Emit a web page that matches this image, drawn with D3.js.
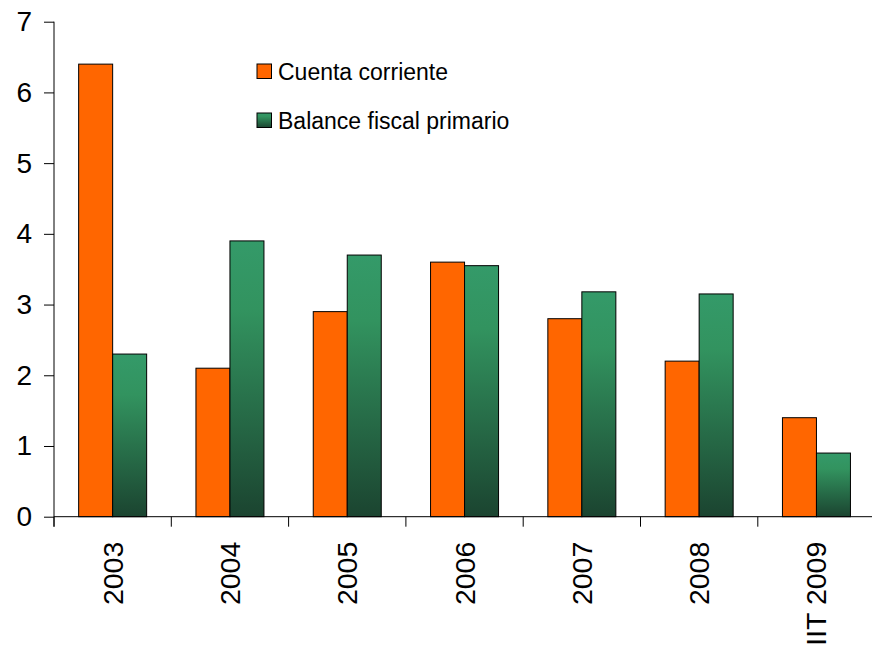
<!DOCTYPE html>
<html>
<head>
<meta charset="utf-8">
<script src="https://cdn.jsdelivr.net/npm/d3@7"></script>
<style>
  html, body { margin: 0; padding: 0; background: #fff; }
  svg { display: block; font-family: "Liberation Sans", Arial, sans-serif; }
</style>
</head>
<body>
<svg id="chart" width="872" height="647"></svg>
<script>
const categories = ["2003", "2004", "2005", "2006", "2007", "2008", "IIT 2009"];
const seriesNames = ["Cuenta corriente", "Balance fiscal primario"];
const cuentaCorriente = [6.4, 2.1, 2.9, 3.6, 2.8, 2.2, 1.4];
const balanceFiscal = [2.3, 3.9, 3.7, 3.55, 3.18, 3.15, 0.9];
const yTicks = [0, 1, 2, 3, 4, 5, 6, 7];

(function () {
const svg = d3.select("#chart");
const defs = svg.append("defs");
const grad = defs.append("linearGradient")
  .attr("id", "greenGrad").attr("x1", 0).attr("y1", 0).attr("x2", 0).attr("y2", 1);
grad.append("stop").attr("offset", "0%").attr("stop-color", "#349a69");
grad.append("stop").attr("offset", "25%").attr("stop-color", "#32935f");
grad.append("stop").attr("offset", "100%").attr("stop-color", "#1b4430");

const mLeft = 54, mTop = 21.7, mBottom = 516.7, step = 117.3;
const x0 = d3.scaleBand().domain(categories).range([mLeft, mLeft + step * categories.length]).padding(0);
const y = d3.scaleLinear().domain([0, 7]).range([mBottom, mTop]);
const groupW = 68;
const x1 = d3.scaleBand().domain(seriesNames)
  .range([(x0.bandwidth() - groupW) / 2, (x0.bandwidth() + groupW) / 2]).padding(0);

const colors = { "Cuenta corriente": "#ff6600", "Balance fiscal primario": "url(#greenGrad)" };

const data = categories.map((c, i) => ({
  cat: c,
  vals: [
    { s: seriesNames[0], v: cuentaCorriente[i] },
    { s: seriesNames[1], v: balanceFiscal[i] }
  ]
}));

const groups = svg.append("g").selectAll("g").data(data).join("g")
  .attr("transform", d => `translate(${x0(d.cat)},0)`);
groups.selectAll("rect").data(d => d.vals).join("rect")
  .attr("x", d => x1(d.s))
  .attr("y", d => y(d.v))
  .attr("width", x1.bandwidth())
  .attr("height", d => y(0) - y(d.v))
  .attr("fill", d => colors[d.s])
  .attr("stroke", "#000")
  .attr("stroke-width", 1);

// Y axis
const yAxis = svg.append("g").attr("transform", `translate(${mLeft},0)`)
  .call(d3.axisLeft(y).tickValues(yTicks).tickFormat(d3.format("d")).tickSize(10).tickPadding(12));
yAxis.select(".domain").attr("d", `M0,${mTop}V${mBottom + 10}`).attr("stroke", "#000");
yAxis.selectAll("text").attr("font-size", 28).attr("fill", "#000")
  .attr("font-family", "'Liberation Sans', Arial, sans-serif");
yAxis.selectAll("line").attr("stroke", "#000");

// X axis line and ticks at category boundaries
svg.append("line")
  .attr("x1", mLeft).attr("x2", 872).attr("y1", y(0)).attr("y2", y(0))
  .attr("stroke", "#000");
const boundaries = categories.map(c => x0(c)).concat([x0.range()[1]]);
svg.append("g").selectAll("line").data(boundaries).join("line")
  .attr("x1", d => d).attr("x2", d => d)
  .attr("y1", y(0)).attr("y2", y(0) + 10)
  .attr("stroke", "#000");

// X labels rotated
svg.append("g").selectAll("text").data(categories).join("text")
  .attr("transform", d => `translate(${x0(d) + x0.bandwidth() / 2 + 10},${y(0) + 25}) rotate(-90)`)
  .attr("text-anchor", "end")
  .attr("font-size", 28.5)
  .attr("fill", "#000")
  .text(d => d);

// Legend
const legend = svg.append("g");
seriesNames.forEach((s, i) => {
  const ly = 64 + i * 49;
  legend.append("rect").attr("x", 257).attr("y", ly).attr("width", 14.5).attr("height", 14.5)
    .attr("fill", colors[s]).attr("stroke", "#000").attr("stroke-width", 1);
  legend.append("text").attr("x", 278).attr("y", ly + 15.5)
    .attr("font-size", 23).attr("fill", "#000").text(s);
});
})();
</script>
</body>
</html>
